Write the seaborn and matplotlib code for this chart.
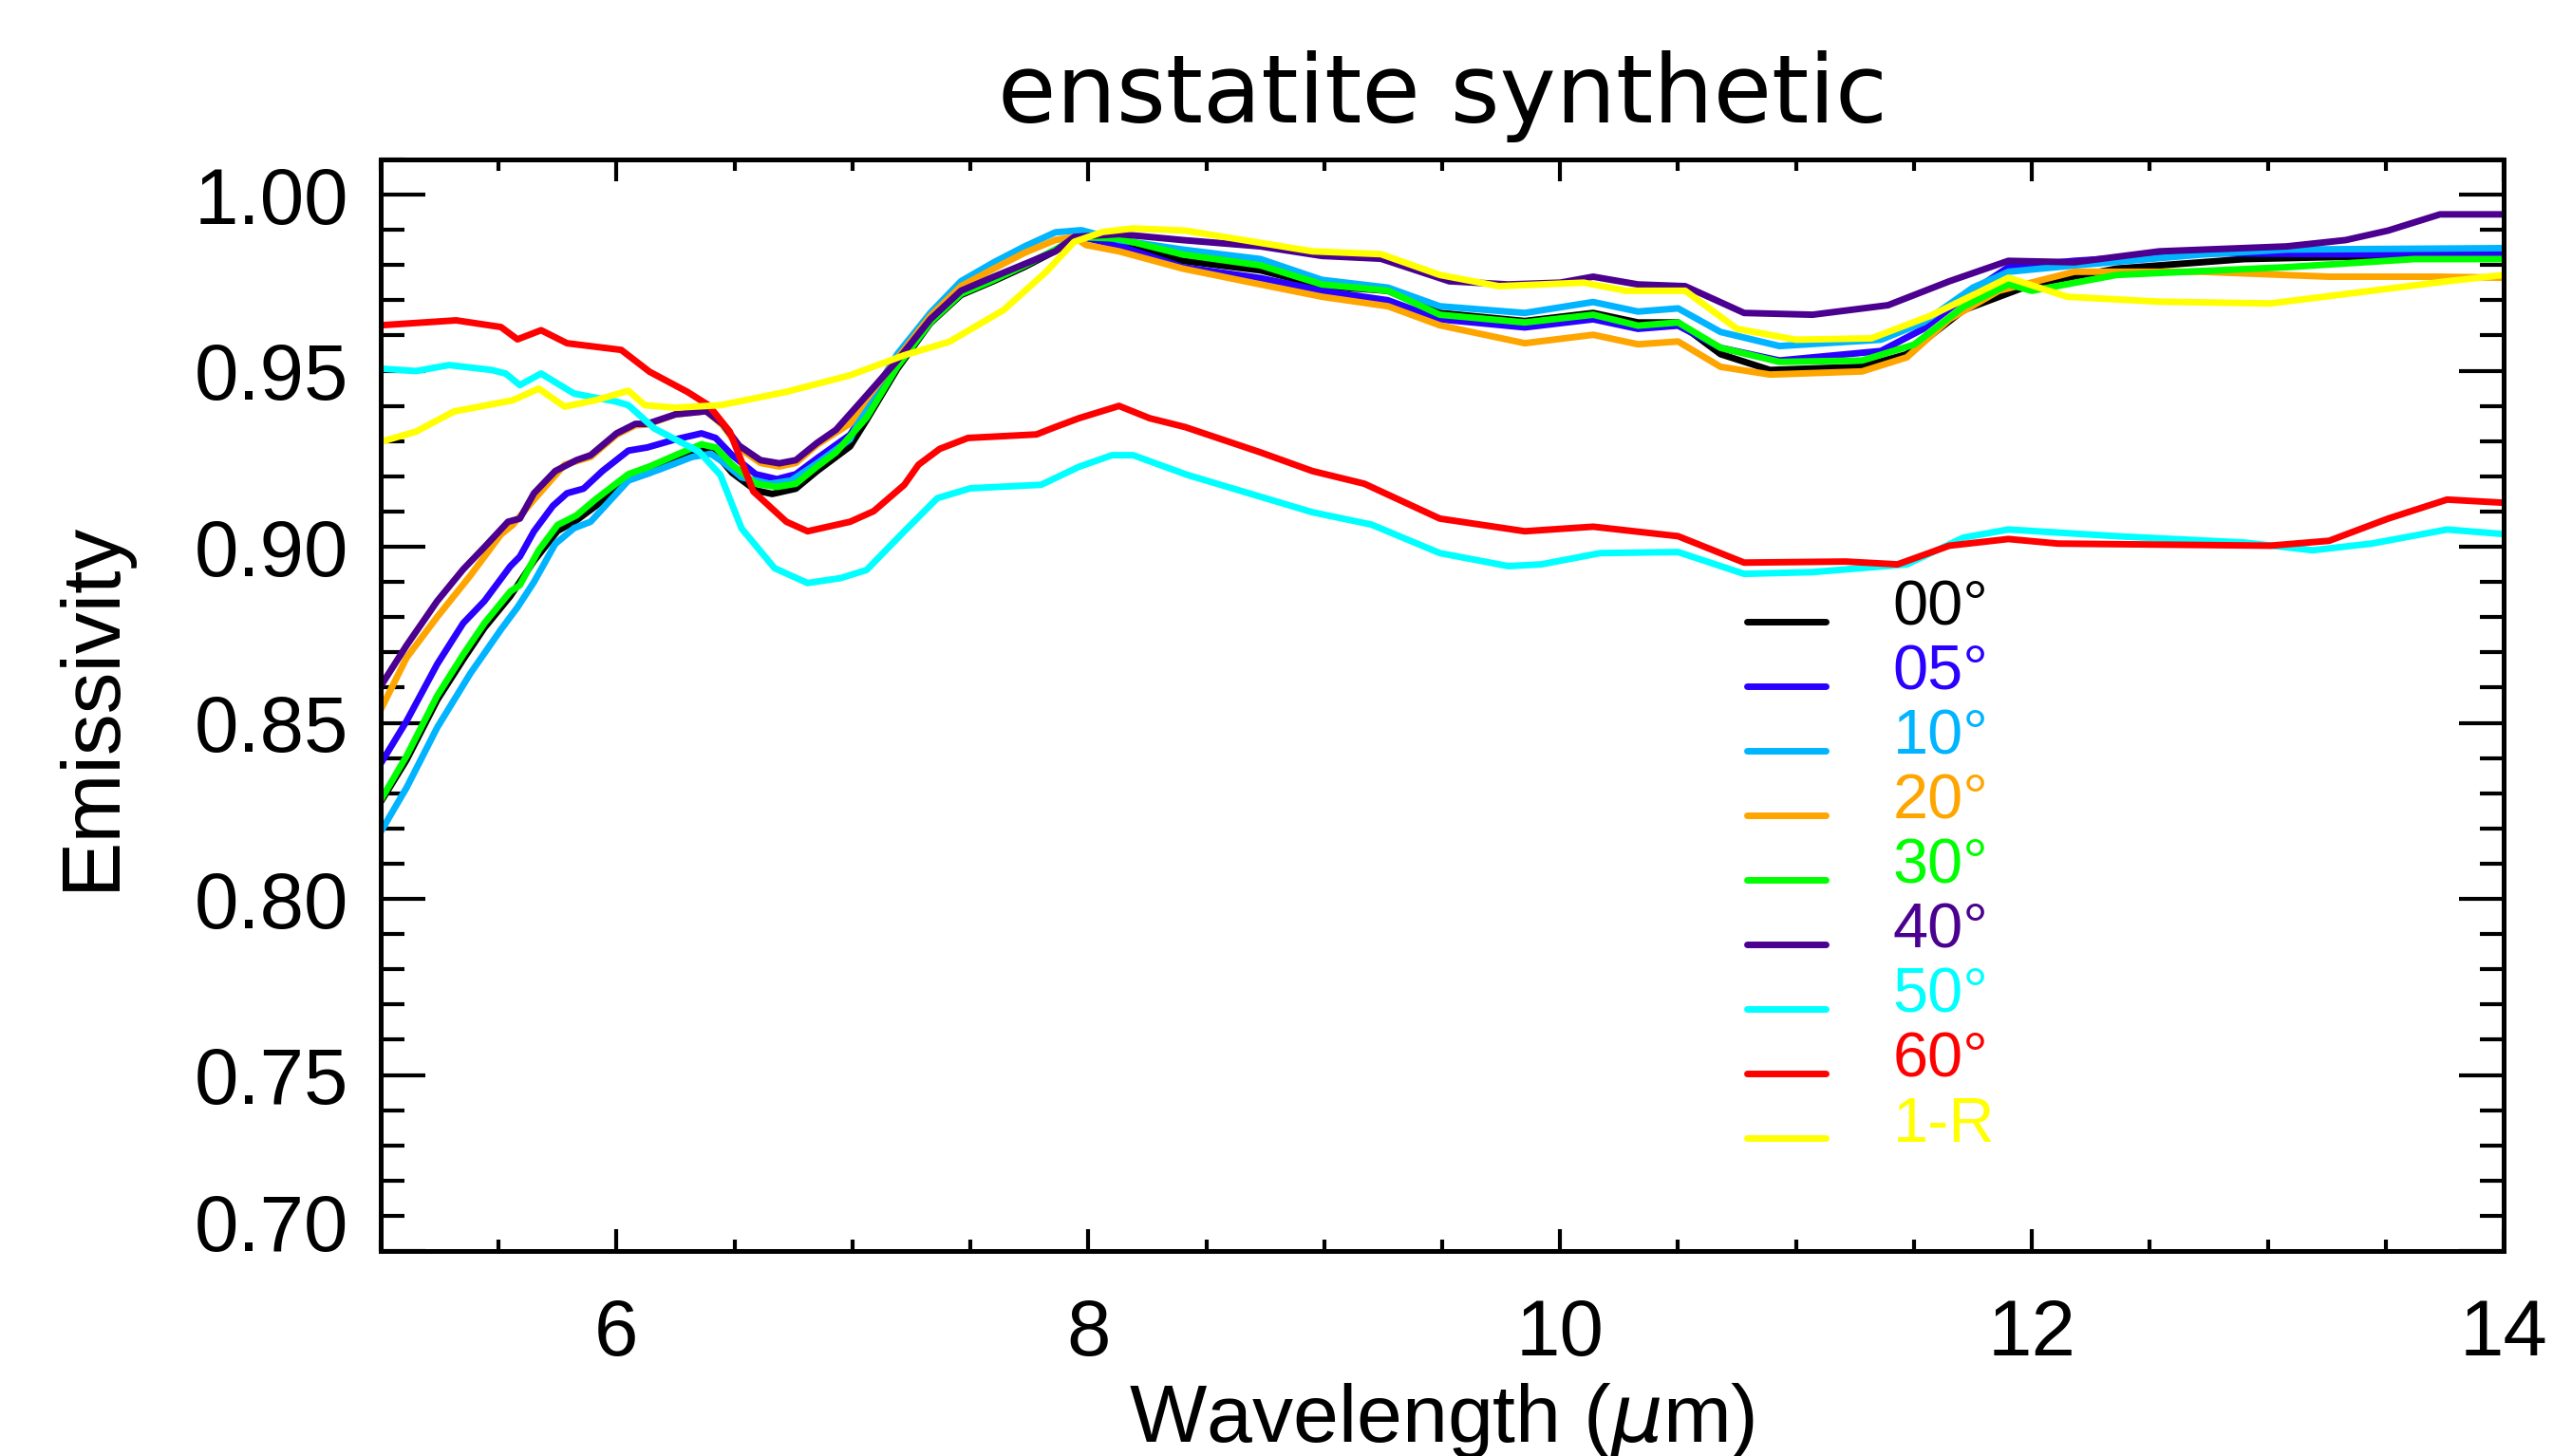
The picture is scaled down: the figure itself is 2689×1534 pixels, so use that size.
import matplotlib
matplotlib.use("Agg")
import matplotlib.pyplot as plt
import numpy as np
import pandas as pd
import seaborn as sns
from matplotlib.lines import Line2D
from matplotlib.legend_handler import HandlerLine2D
from matplotlib.ticker import MultipleLocator, FormatStrFormatter

# emissivity spectra, one pair of lists per angle
wl_00 = [5.0, 5.11, 5.24, 5.35, 5.44, 5.55, 5.65, 5.75, 5.83, 5.91, 6.05, 6.14, 6.25, 6.36, 6.42,
         6.49, 6.59, 6.66, 6.76, 6.85, 6.99, 7.06, 7.19, 7.33, 7.46, 7.60, 7.73, 7.86, 7.97, 8.13,
         8.40, 8.73, 8.99, 9.27, 9.49, 9.85, 10.14, 10.33, 10.50, 10.68, 10.89, 11.28, 11.47, 11.71,
         12.00, 12.36, 12.90, 13.50, 14.0]
em_00 = [0.8275, 0.8395, 0.8565, 0.8680, 0.8770, 0.8860, 0.8960, 0.9045, 0.9075, 0.9115, 0.9190,
         0.9210, 0.9245, 0.9275, 0.9265, 0.9210, 0.9160, 0.9150, 0.9165, 0.9215, 0.9285, 0.9360,
         0.9505, 0.9635, 0.9715, 0.9755, 0.9795, 0.9840, 0.9880, 0.9865, 0.9812, 0.9785, 0.9740,
         0.9727, 0.9664, 0.9641, 0.9664, 0.9637, 0.9637, 0.9547, 0.9502, 0.9511, 0.9547, 0.9672,
         0.9745, 0.9790, 0.9817, 0.9826, 0.9831]

wl_05 = [5.0, 5.11, 5.24, 5.35, 5.44, 5.55, 5.59, 5.65, 5.73, 5.79, 5.86, 5.94, 6.05, 6.13, 6.25,
         6.36, 6.42, 6.49, 6.59, 6.68, 6.76, 6.85, 6.99, 7.06, 7.19, 7.33, 7.46, 7.60, 7.73, 7.86,
         7.97, 8.13, 8.40, 8.73, 8.99, 9.27, 9.49, 9.85, 10.14, 10.33, 10.50, 10.68, 10.93, 11.36,
         11.54, 11.75, 11.90, 12.18, 12.72, 13.44, 14.0]
em_05 = [0.8384, 0.8505, 0.8667, 0.8783, 0.8846, 0.8945, 0.8972, 0.9044, 0.9116, 0.9152, 0.9165,
         0.9215, 0.9273, 0.9282, 0.9305, 0.9322, 0.9309, 0.9260, 0.9206, 0.9192, 0.9206, 0.9251,
         0.9318, 0.9390, 0.9520, 0.9645, 0.9722, 0.9762, 0.9800, 0.9842, 0.9880, 0.9855, 0.9794,
         0.9763, 0.9727, 0.9700, 0.9646, 0.9623, 0.9646, 0.9619, 0.9628, 0.9565, 0.9529, 0.9556,
         0.9619, 0.9727, 0.9794, 0.9812, 0.9834, 0.9830, 0.9834]

wl_10 = [5.0, 5.11, 5.24, 5.38, 5.51, 5.58, 5.65, 5.74, 5.82, 5.89, 6.05, 6.18, 6.32, 6.40, 6.45,
         6.53, 6.65, 6.74, 6.85, 6.99, 7.06, 7.19, 7.33, 7.46, 7.60, 7.73, 7.86, 7.97, 8.13, 8.40,
         8.73, 8.99, 9.27, 9.49, 9.85, 10.14, 10.33, 10.50, 10.68, 10.93, 11.36, 11.54, 11.75,
         11.90, 12.18, 12.72, 13.08, 14.0]
em_10 = [0.8190, 0.8316, 0.8487, 0.8640, 0.8765, 0.8828, 0.8900, 0.9008, 0.9053, 0.9071, 0.9188,
         0.9219, 0.9255, 0.9264, 0.9241, 0.9197, 0.9179, 0.9188, 0.9237, 0.9305, 0.9403, 0.9547,
         0.9664, 0.9754, 0.9808, 0.9853, 0.9893, 0.9899, 0.9871, 0.9844, 0.9817, 0.9758, 0.9736,
         0.9683, 0.9664, 0.9695, 0.9668, 0.9677, 0.9610, 0.9570, 0.9588, 0.9637, 0.9736, 0.9781,
         0.9799, 0.9830, 0.9844, 0.9848]

wl_20 = [5.0, 5.11, 5.24, 5.38, 5.51, 5.56, 5.65, 5.78, 5.89, 6.0, 6.08, 6.13, 6.25, 6.38, 6.45,
         6.52, 6.61, 6.69, 6.76, 6.85, 6.99, 7.06, 7.19, 7.33, 7.46, 7.60, 7.73, 7.86, 7.94, 7.99,
         8.13, 8.40, 8.73, 8.99, 9.27, 9.49, 9.85, 10.14, 10.33, 10.50, 10.68, 10.89, 11.28, 11.47,
         11.65, 11.86, 12.18, 12.72, 13.26, 13.73, 14.0]
em_20 = [0.8537, 0.8685, 0.8801, 0.8918, 0.9035, 0.9062, 0.9134, 0.9233, 0.9255, 0.9318, 0.9345,
         0.9347, 0.9376, 0.9385, 0.9345, 0.9280, 0.9238, 0.9228, 0.9238, 0.9290, 0.9350, 0.9420,
         0.9535, 0.9655, 0.9740, 0.9790, 0.9835, 0.9871, 0.9880, 0.9857, 0.9839, 0.9790, 0.9745,
         0.9710, 0.9683, 0.9629, 0.9578, 0.9602, 0.9575, 0.9583, 0.9511, 0.9489, 0.9498, 0.9538,
         0.9646, 0.9727, 0.9781, 0.9781, 0.9767, 0.9767, 0.9764]

wl_30 = [5.0, 5.11, 5.24, 5.35, 5.44, 5.55, 5.59, 5.67, 5.75, 5.83, 5.91, 6.05, 6.14, 6.25, 6.36,
         6.42, 6.49, 6.59, 6.68, 6.76, 6.85, 6.93, 7.06, 7.19, 7.33, 7.46, 7.60, 7.73, 7.86, 7.95,
         8.13, 8.40, 8.73, 8.99, 9.27, 9.49, 9.85, 10.14, 10.33, 10.50, 10.68, 10.93, 11.28, 11.50,
         11.71, 11.90, 12.00, 12.36, 13.08, 13.62, 14.0]
em_30 = [0.8280, 0.8406, 0.8577, 0.8694, 0.8783, 0.8873, 0.8891, 0.8990, 0.9062, 0.9089, 0.9134,
         0.9206, 0.9228, 0.9260, 0.9291, 0.9282, 0.9233, 0.9179, 0.9170, 0.9179, 0.9228, 0.9268,
         0.9367, 0.9511, 0.9637, 0.9718, 0.9758, 0.9799, 0.9844, 0.9880, 0.9875, 0.9830, 0.9799,
         0.9745, 0.9727, 0.9659, 0.9637, 0.9659, 0.9628, 0.9637, 0.9565, 0.9525, 0.9529, 0.9574,
         0.9682, 0.9745, 0.9727, 0.9772, 0.9794, 0.9817, 0.9817]

wl_40 = [5.0, 5.11, 5.24, 5.35, 5.44, 5.54, 5.59, 5.65, 5.74, 5.83, 5.89, 6.0, 6.08, 6.13, 6.25,
         6.38, 6.45, 6.52, 6.61, 6.69, 6.76, 6.85, 6.93, 7.06, 7.19, 7.33, 7.46, 7.60, 7.73, 7.86,
         7.94, 8.13, 8.40, 8.73, 8.99, 9.24, 9.53, 9.78, 10.0, 10.14, 10.33, 10.53, 10.78, 11.07,
         11.39, 11.65, 11.90, 12.18, 12.54, 13.08, 13.33, 13.51, 13.73, 14.0]
em_40 = [0.8604, 0.8720, 0.8846, 0.8936, 0.8999, 0.9071, 0.9080, 0.9152, 0.9215, 0.9246, 0.9260,
         0.9322, 0.9349, 0.9349, 0.9376, 0.9385, 0.9349, 0.9287, 0.9246, 0.9237, 0.9246, 0.9295,
         0.9332, 0.9430, 0.9529, 0.9646, 0.9727, 0.9767, 0.9803, 0.9839, 0.9880, 0.9888, 0.9871,
         0.9853, 0.9826, 0.9818, 0.9754, 0.9745, 0.9750, 0.9767, 0.9745, 0.9740, 0.9664, 0.9659,
         0.9686, 0.9754, 0.9812, 0.9808, 0.9839, 0.9853, 0.9871, 0.9898, 0.9944, 0.9944]

wl_50 = [5.0, 5.15, 5.29, 5.47, 5.53, 5.59, 5.68, 5.82, 6.0, 6.05, 6.16, 6.35, 6.44, 6.53, 6.67,
         6.81, 6.95, 7.06, 7.22, 7.36, 7.50, 7.80, 7.96, 8.10, 8.19, 8.42, 8.95, 9.20, 9.49, 9.78,
         9.92, 10.17, 10.50, 10.78, 11.07, 11.47, 11.71, 11.90, 12.36, 12.90, 13.19, 13.44, 13.76,
         14.0]
em_50 = [0.9506, 0.9499, 0.9516, 0.9502, 0.9492, 0.9459, 0.9492, 0.9435, 0.9412, 0.9402, 0.9336,
         0.9270, 0.9204, 0.9052, 0.8939, 0.8897, 0.8911, 0.8934, 0.9044, 0.9138, 0.9166, 0.9176,
         0.9227, 0.9260, 0.9260, 0.9204, 0.9098, 0.9063, 0.8982, 0.8945, 0.8950, 0.8982, 0.8985,
         0.8923, 0.8928, 0.8950, 0.9026, 0.9049, 0.9030, 0.9012, 0.8990, 0.9009, 0.9049, 0.9036]

wl_60 = [5.0, 5.32, 5.51, 5.58, 5.68, 5.79, 6.02, 6.14, 6.30, 6.39, 6.48, 6.58, 6.72, 6.81, 6.99,
         7.09, 7.22, 7.28, 7.37, 7.49, 7.78, 7.86, 7.96, 8.13, 8.26, 8.41, 8.73, 8.95, 9.17, 9.49,
         9.85, 10.14, 10.50, 10.78, 11.21, 11.43, 11.65, 11.90, 12.11, 13.01, 13.26, 13.51, 13.76,
         14.0]
em_60 = [0.9629, 0.9643, 0.9624, 0.9589, 0.9615, 0.9578, 0.9559, 0.9497, 0.9440, 0.9402, 0.9327,
         0.9157, 0.9071, 0.9044, 0.9071, 0.9101, 0.9176, 0.9233, 0.9278, 0.9309, 0.9319, 0.9340,
         0.9365, 0.9400, 0.9365, 0.9340, 0.9268, 0.9215, 0.9179, 0.9080, 0.9044, 0.9057, 0.9030,
         0.8955, 0.8958, 0.8950, 0.9003, 0.9022, 0.9009, 0.9003, 0.9017, 0.9080, 0.9134, 0.9125]

wl_1r = [5.0, 5.15, 5.31, 5.56, 5.67, 5.78, 5.91, 6.05, 6.12, 6.25, 6.44, 6.72, 6.99, 7.22, 7.41,
         7.64, 7.82, 7.94, 8.06, 8.19, 8.41, 8.95, 9.24, 9.49, 9.74, 10.10, 10.28, 10.53, 10.75,
         11.00, 11.32, 11.57, 11.90, 12.15, 12.54, 13.01, 13.44, 13.76, 14.0]
em_1r = [0.9298, 0.9327, 0.9384, 0.9416, 0.9449, 0.9398, 0.9416, 0.9443, 0.9402, 0.9395, 0.9402,
         0.9440, 0.9487, 0.9544, 0.9582, 0.9672, 0.9780, 0.9866, 0.9894, 0.9904, 0.9898, 0.9839,
         0.9831, 0.9772, 0.9740, 0.9750, 0.9727, 0.9727, 0.9619, 0.9588, 0.9592, 0.9656, 0.9764,
         0.9710, 0.9696, 0.9691, 0.9727, 0.9754, 0.9772]

labels = ["00°", "05°", "10°", "20°", "30°", "40°", "50°", "60°", "1-R"]
colors = ["#000000", "#2a00ff", "#00b4ff", "#ffa500", "#00ff00", "#4b0090", "#00ffff",
          "#ff0000", "#ffff00"]
wls = [wl_00, wl_05, wl_10, wl_20, wl_30, wl_40, wl_50, wl_60, wl_1r]
ems = [em_00, em_05, em_10, em_20, em_30, em_40, em_50, em_60, em_1r]

df = pd.concat(
    [pd.DataFrame({"Wavelength": w, "Emissivity": e, "angle": lab})
     for w, e, lab in zip(wls, ems, labels)],
    ignore_index=True,
)


class LoweredLine(HandlerLine2D):
    # legend sample sits near the label's baseline instead of its middle
    def create_artists(self, legend, orig_handle, xdescent, ydescent, width, height,
                       fontsize, trans):
        arts = super().create_artists(legend, orig_handle, xdescent, ydescent, width,
                                      height, fontsize, trans)
        for a in arts:
            a.set_ydata(np.asarray(a.get_ydata()) - 14)
        return arts


sns.set_theme(style="ticks")
plt.rcParams["font.family"] = ["Liberation Sans", "DejaVu Sans"]
plt.rcParams["axes.linewidth"] = 3.6
plt.rcParams["text.color"] = "black"
plt.rcParams["axes.labelcolor"] = "black"
plt.rcParams["xtick.color"] = "black"
plt.rcParams["ytick.color"] = "black"

fig = plt.figure(figsize=(26.89, 15.34), dpi=100)
ax = fig.add_axes([0.1491, 0.1408, 0.8316, 0.7497])

sns.lineplot(
    data=df, x="Wavelength", y="Emissivity", hue="angle", hue_order=labels,
    palette=dict(zip(labels, colors)), estimator=None, sort=False, legend=False,
    linewidth=5, ax=ax,
)

ax.set_xlim(5, 14)
ax.set_ylim(0.70, 1.01)
ax.xaxis.set_major_locator(MultipleLocator(2))
ax.xaxis.set_minor_locator(MultipleLocator(0.5))
ax.yaxis.set_major_locator(MultipleLocator(0.05))
ax.yaxis.set_minor_locator(MultipleLocator(0.01))
ax.yaxis.set_major_formatter(FormatStrFormatter("%.2f"))
ax.tick_params(which="both", direction="in", top=True, right=True, width=3,
               color="black", labelsize=60, labelcolor="black")
ax.tick_params(axis="y", which="major", length=34, pad=24)
ax.tick_params(axis="y", which="minor", length=18)
ax.tick_params(axis="x", which="major", length=16.5, pad=35)
ax.tick_params(axis="x", which="minor", length=8.5)
for s in ax.spines.values():
    s.set_color("black")
    s.set_linewidth(3.6)

ax.set_title("enstatite synthetic", fontsize=72, family="DejaVu Sans", pad=28,
             color="black")
ax.set_xlabel("Wavelength ($\\mu$m)", fontsize=62)
ax.xaxis.set_label_coords(0.5, -0.175)
ax.xaxis.label.set_va("baseline")
ax.set_ylabel("Emissivity", fontsize=63)
ax.yaxis.set_label_coords(-0.1256, 0.5)
ax.yaxis.label.set_va("baseline")

handles = ax.get_lines()[:len(labels)]
ax.legend(
    handles, labels, loc="upper left", bbox_to_anchor=(0.6843, 0.602),
    bbox_transform=fig.transFigure, frameon=False, fontsize=48,
    labelcolor="linecolor", handlelength=1.25, handletextpad=1.05,
    labelspacing=0.09, borderpad=0, borderaxespad=0,
    handler_map={Line2D: LoweredLine()},
)

# lowest y label sits on the axis line, as in the original
fig.canvas.draw()
for t in ax.yaxis.get_major_ticks():
    if abs(t.get_loc() - 0.70) < 1e-6:
        t.label1.set_va("baseline")

fig.savefig("out.png", dpi=100, facecolor="white")
